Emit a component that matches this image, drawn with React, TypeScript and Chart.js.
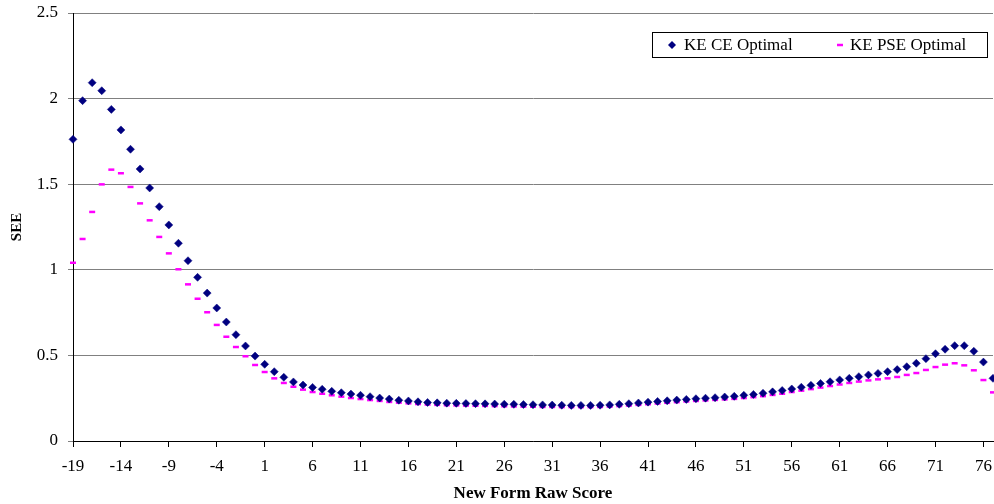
import React, { useEffect, useRef } from "react";
import { Chart, registerables } from "chart.js";

Chart.register(...registerables);

const SCORES = [
  -19, -18, -17, -16, -15, -14, -13, -12, -11, -10, -9, -8, -7, -6, -5, -4, -3, -2, -1, 0,
  1, 2, 3, 4, 5, 6, 7, 8, 9, 10, 11, 12, 13, 14, 15, 16, 17, 18, 19, 20,
  21, 22, 23, 24, 25, 26, 27, 28, 29, 30, 31, 32, 33, 34, 35, 36, 37, 38, 39, 40,
  41, 42, 43, 44, 45, 46, 47, 48, 49, 50, 51, 52, 53, 54, 55, 56, 57, 58, 59, 60,
  61, 62, 63, 64, 65, 66, 67, 68, 69, 70, 71, 72, 73, 74, 75, 76, 77,
];

const KE_CE_OPTIMAL = [
  1.762, 1.988, 2.093, 2.046, 1.937, 1.817, 1.704, 1.589, 1.478, 1.369,
  1.262, 1.155, 1.053, 0.956, 0.864, 0.777, 0.695, 0.621, 0.555, 0.496,
  0.448, 0.405, 0.372, 0.345, 0.327, 0.313, 0.302, 0.29, 0.282, 0.274,
  0.267, 0.259, 0.251, 0.245, 0.238, 0.234, 0.229, 0.225, 0.223, 0.221,
  0.22, 0.219, 0.218, 0.217, 0.216, 0.215, 0.214, 0.213, 0.212, 0.211,
  0.21, 0.209, 0.208, 0.208, 0.208, 0.209, 0.211, 0.214, 0.218, 0.222,
  0.227, 0.231, 0.235, 0.239, 0.243, 0.247, 0.25, 0.253, 0.257, 0.261,
  0.267, 0.272, 0.279, 0.287, 0.295, 0.304, 0.314, 0.325, 0.336, 0.346,
  0.357, 0.366, 0.376, 0.386, 0.395, 0.405, 0.417, 0.434, 0.454, 0.481,
  0.51, 0.536, 0.557, 0.557, 0.524, 0.461, 0.366,
];

const KE_PSE_OPTIMAL = [
  1.041, 1.18, 1.338, 1.499, 1.585, 1.564, 1.484, 1.388, 1.289, 1.192,
  1.096, 1.003, 0.915, 0.831, 0.752, 0.678, 0.609, 0.549, 0.495, 0.444,
  0.403, 0.366, 0.339, 0.317, 0.3, 0.286, 0.276, 0.267, 0.259, 0.251,
  0.245, 0.239, 0.234, 0.228, 0.224, 0.22, 0.216, 0.213, 0.211, 0.209,
  0.208, 0.207, 0.206, 0.205, 0.204, 0.203, 0.202, 0.201, 0.2, 0.199,
  0.199, 0.198, 0.198, 0.198, 0.198, 0.199, 0.201, 0.204, 0.207, 0.211,
  0.215, 0.219, 0.223, 0.227, 0.231, 0.234, 0.237, 0.24, 0.243, 0.246,
  0.251, 0.256, 0.262, 0.269, 0.276, 0.286, 0.294, 0.303, 0.312, 0.321,
  0.33, 0.339, 0.347, 0.354, 0.36, 0.366, 0.374, 0.386, 0.397, 0.415,
  0.432, 0.446, 0.454, 0.442, 0.413, 0.356, 0.284,
];

const X_TICKS = [-19, -14, -9, -4, 1, 6, 11, 16, 21, 26, 31, 36, 41, 46, 51, 56, 61, 66, 71, 76];
const Y_TICKS = [0, 0.5, 1, 1.5, 2, 2.5];

const SERIES_LABELS = ["KE CE Optimal", "KE PSE Optimal"];
const NAVY = "#000080";
const MAGENTA = "#FF00FF";
const FONT = "'Liberation Serif', 'Times New Roman', serif";

const boxLegend = {
  id: "boxLegend",
  afterDraw(chart: any) {
    const ctx = chart.ctx;
    ctx.save();
    const bx = 652.5, by = 32.5, bw = 335, bh = 25;
    ctx.fillStyle = "#ffffff";
    ctx.fillRect(bx, by, bw, bh);
    ctx.strokeStyle = "#000000";
    ctx.lineWidth = 1;
    ctx.strokeRect(bx, by, bw, bh);
    const cy = by + bh / 2;
    ctx.fillStyle = NAVY;
    ctx.beginPath();
    ctx.moveTo(672, cy - 4);
    ctx.lineTo(676, cy);
    ctx.lineTo(672, cy + 4);
    ctx.lineTo(668, cy);
    ctx.closePath();
    ctx.fill();
    ctx.strokeStyle = MAGENTA;
    ctx.lineWidth = 2.5;
    ctx.beginPath();
    ctx.moveTo(837, cy);
    ctx.lineTo(843, cy);
    ctx.stroke();
    ctx.fillStyle = "#000000";
    ctx.font = `17px ${FONT}`;
    ctx.textBaseline = "middle";
    ctx.textAlign = "left";
    ctx.fillText(chart.data.datasets[0].label, 684, cy + 1);
    ctx.fillText(chart.data.datasets[1].label, 850, cy + 1);
    ctx.restore();
  },
};

export default function App() {
  const ref = useRef<HTMLCanvasElement>(null);

  useEffect(() => {
    if (!ref.current) return;
    const chart = new Chart(ref.current, {
      type: "scatter",
      data: {
        datasets: [
          {
            label: SERIES_LABELS[0],
            data: SCORES.map((x, i) => ({ x, y: KE_CE_OPTIMAL[i] })),
            pointStyle: "rectRot",
            pointRadius: 4,
            pointBackgroundColor: NAVY,
            pointBorderColor: NAVY,
            pointBorderWidth: 0.5,
            showLine: false,
            clip: false,
          },
          {
            label: SERIES_LABELS[1],
            data: SCORES.map((x, i) => ({ x, y: KE_PSE_OPTIMAL[i] })),
            pointStyle: "line",
            pointRadius: 3,
            pointBackgroundColor: MAGENTA,
            pointBorderColor: MAGENTA,
            pointBorderWidth: 2.5,
            showLine: false,
            clip: false,
          },
        ],
      } as any,
      options: {
        responsive: false,
        animation: false,
        layout: { autoPadding: false, padding: { top: 13, right: 1, left: 0, bottom: 0 } },
        plugins: {
          legend: { display: false },
          tooltip: { enabled: false },
        },
        scales: {
          x: {
            type: "linear",
            min: -19,
            max: 77,
            afterBuildTicks: (scale: any) => {
              scale.ticks = X_TICKS.map((v) => ({ value: v }));
            },
            afterFit: (scale: any) => {
              scale.height = 63;
              scale.paddingLeft = 0;
              scale.paddingRight = 0;
              scale.paddingTop = 0;
              scale.paddingBottom = 0;
            },
            grid: {
              drawOnChartArea: false,
              drawTicks: true,
              tickLength: 6,
              color: "#000000",
            },
            border: { display: true, color: "#000000", width: 1 },
            ticks: {
              autoSkip: false,
              maxRotation: 0,
              padding: 9,
              color: "#000000",
              font: { family: FONT, size: 17 },
              callback: (v: any) => String(v),
            },
            title: {
              display: true,
              text: "New Form Raw Score",
              color: "#000000",
              font: { family: FONT, size: 17, weight: "bold" },
              padding: { top: 2, bottom: 0 },
            },
          },
          y: {
            type: "linear",
            min: 0,
            max: 2.5,
            afterBuildTicks: (scale: any) => {
              scale.ticks = Y_TICKS.map((v) => ({ value: v }));
            },
            afterFit: (scale: any) => {
              scale.width = 73;
              scale.paddingLeft = 0;
              scale.paddingRight = 0;
              scale.paddingTop = 0;
              scale.paddingBottom = 0;
            },
            grid: {
              drawOnChartArea: true,
              drawTicks: true,
              tickLength: 5,
              color: "#808080",
              lineWidth: 1,
            },
            border: { display: true, color: "#000000", width: 1 },
            ticks: {
              padding: 10,
              color: "#000000",
              font: { family: FONT, size: 17 },
              callback: (v: any) => String(v),
            },
            title: {
              display: true,
              text: "SEE",
              color: "#000000",
              font: { family: FONT, size: 15, weight: "bold" },
              padding: { top: 8, bottom: 0 },
            },
          },
        },
      } as any,
      plugins: [boxLegend],
    });
    return () => chart.destroy();
  }, []);

  return (
    <div style={{ position: "fixed", left: 0, top: 0, width: 994, height: 504, background: "#fff" }}>
      <canvas ref={ref} width={994} height={504} style={{ display: "block" }} />
    </div>
  );
}
